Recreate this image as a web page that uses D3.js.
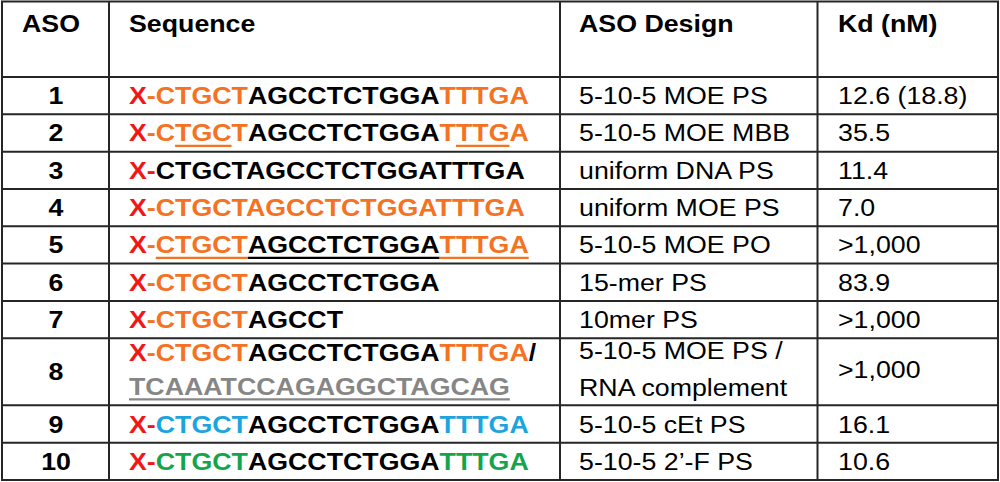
<!DOCTYPE html>
<html><head><meta charset="utf-8">
<script src="https://cdn.jsdelivr.net/npm/d3@7"></script>
<style>body{margin:0;background:#fff}svg{display:block}</style>
</head><body>
<script>
// ---------- DATA ----------
const headers = ["ASO", "Sequence", "ASO Design", "Kd (nM)"];
const asoIds = ["1", "2", "3", "4", "5", "6", "7", "8", "9", "10"];
// each sequence: list of lines; each line: list of [text, chemistry, underlined linkage]
const sequences = [
  [[["X","lab"],["-","moe"],["CTGCT","moe"],["AGCCTCTGGA","dna"],["TTTGA","moe"]]],
  [[["X","lab"],["-","moe"],["C","moe"],["TGC","moe",1],["T","moe"],["AGCCTCTGGA","dna"],["T","moe"],["TTG","moe",1],["A","moe"]]],
  [[["X","lab"],["-","lab"],["CTGCTAGCCTCTGGATTTGA","dna"]]],
  [[["X","lab"],["-","moe"],["CTGCTAGCCTCTGGATTTGA","moe"]]],
  [[["X","lab"],["-","moe"],["CTGCT","moe",1],["AGCCTCTGGA","dna",1],["TTTGA","moe",1]]],
  [[["X","lab"],["-","moe"],["CTGCT","moe"],["AGCCTCTGGA","dna"]]],
  [[["X","lab"],["-","moe"],["CTGCT","moe"],["AGCCT","dna"]]],
  [[["X","lab"],["-","moe"],["CTGCT","moe"],["AGCCTCTGGA","dna"],["TTTGA","moe"],["/","dna"]],
   [["TCAAATCCAGAGGCTAGCAG","rna",1]]],
  [[["X","lab"],["-","lab"],["CTGCT","cet"],["AGCCTCTGGA","dna"],["TTTGA","cet"]]],
  [[["X","lab"],["-","lab"],["CTGCT","fl"],["AGCCTCTGGA","dna"],["TTTGA","fl"]]]
];
const designs = [
  ["5-10-5 MOE PS"], ["5-10-5 MOE MBB"], ["uniform DNA PS"], ["uniform MOE PS"],
  ["5-10-5 MOE PO"], ["15-mer PS"], ["10mer PS"], ["5-10-5 MOE PS /", "RNA complement"],
  ["5-10-5 cEt PS"], ["5-10-5 2\u2019-F PS"]
];
const kds = ["12.6 (18.8)", "35.5", "11.4", "7.0", ">1,000", "83.9", ">1,000", ">1,000", "16.1", "10.6"];
const rowSpans = [1, 1, 1, 1, 1, 1, 1, 1.8, 1, 1];
const chemistries = ["lab", "moe", "dna", "cet", "fl", "rna"];

// ---------- LAYOUT ----------
const W = 1000, H = 482;
const colEdges = [2, 109, 560, 817.5, 998];
const tableTop = 1.5, headerBottom = 77, tableBottom = 480;
const FS = 24, SX = 1.115;
const color = d3.scaleOrdinal().domain(chemistries)
  .range(["#f21616", "#f47222", "#000000", "#1ca4df", "#14a54c", "#868686"]);

const cum = [0]; rowSpans.forEach(s => cum.push(cum[cum.length - 1] + s));
const y = d3.scaleLinear().domain([0, cum[cum.length - 1]]).range([headerBottom, tableBottom]);

const svg = d3.select("body").append("svg").attr("width", W).attr("height", H)
  .style("font-family", "'Liberation Sans', Arial, sans-serif");

function addText(x, yb, anchor, bold) {
  return svg.append("text")
    .attr("transform", `translate(${x},${yb}) scale(${SX},1)`)
    .attr("text-anchor", anchor)
    .attr("font-size", FS)
    .attr("font-weight", bold ? "bold" : "normal")
    .attr("fill", "#000");
}

// header
const headerX = [22, 129, 579, 838];
headers.forEach((h, i) => addText(headerX[i], 32, "start", true).text(h));

// rows
asoIds.forEach((id, r) => {
  const y0 = y(cum[r]), y1 = y(cum[r + 1]), cy = (y0 + y1) / 2;
  const nLines = sequences[r].length;
  const lineH = 34;
  const baseFirst = nLines > 1 ? cy - 11 : cy + 8.5;
  // ASO number
  addText((colEdges[0] + colEdges[1]) / 2 + 0.5, cy + 8.5, "middle", true).text(id);
  // sequence
  sequences[r].forEach((line, li) => {
    const yb = baseFirst + li * lineH;
    const t = addText(129, yb, "start", true);
    line.forEach(seg => t.append("tspan").attr("fill", color(seg[1])).text(seg[0]));
    const node = t.node();
    let idx = 0;
    line.forEach(seg => {
      const n = seg[0].length;
      if (seg[2]) {
        const x0 = idx === 0 ? 0 : node.getSubStringLength(0, idx);
        const x1 = node.getSubStringLength(0, idx + n);
        svg.append("line")
          .attr("transform", `translate(129,${yb}) scale(${SX},1)`)
          .attr("x1", x0).attr("x2", x1).attr("y1", 4.5).attr("y2", 4.5)
          .attr("stroke", color(seg[1])).attr("stroke-width", 2.2);
      }
      idx += n;
    });
  });
  // design
  designs[r].forEach((d, li) => {
    const yb = designs[r].length > 1 ? cy - 12.5 + li * 36.5 : cy + 8.5;
    addText(579, yb, "start", false).text(d);
  });
  // Kd
  addText(838, nLines > 1 ? cy + 6 : cy + 8.5, "start", false).text(kds[r]);
});

// grid lines
const grid = svg.append("g").attr("stroke", "#262626").attr("stroke-width", 2);
const hLines = [tableTop, headerBottom].concat(cum.slice(1).map(c => y(c)));
hLines.forEach(v => grid.append("line").attr("x1", colEdges[0] - 1).attr("x2", colEdges[4] + 1)
  .attr("y1", v).attr("y2", v));
colEdges.forEach(v => grid.append("line").attr("x1", v).attr("x2", v)
  .attr("y1", tableTop).attr("y2", tableBottom));
</script>
</body></html>
